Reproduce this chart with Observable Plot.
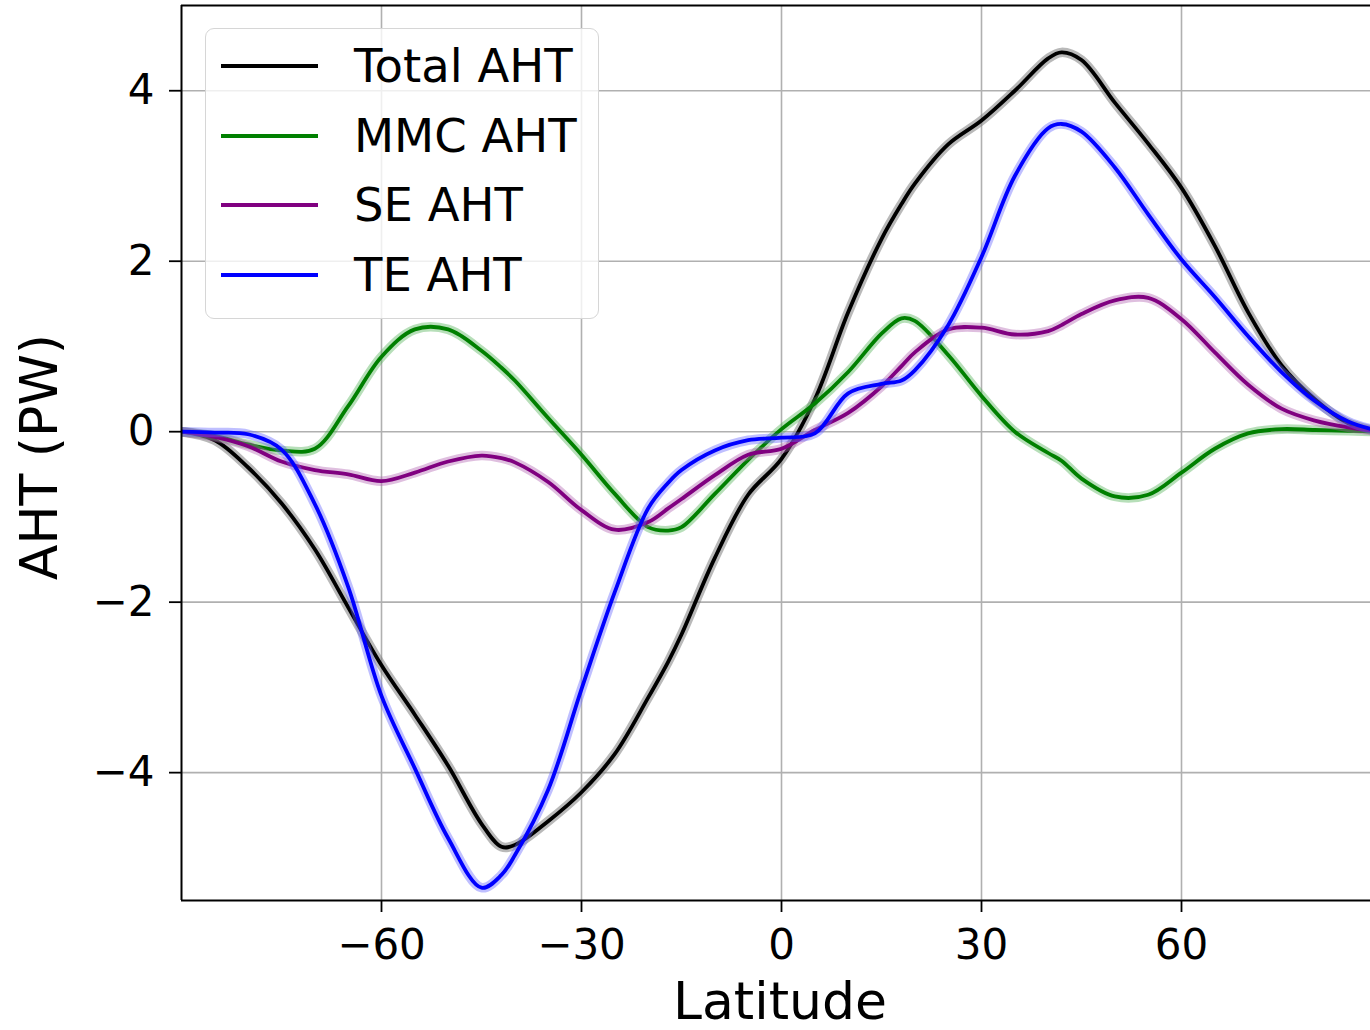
<!DOCTYPE html>
<html>
<head>
<meta charset="utf-8">
<script src="https://cdn.jsdelivr.net/npm/d3@7"></script>
<script src="https://cdn.jsdelivr.net/npm/@observablehq/plot@0.6"></script>
<style>
  html, body { margin: 0; padding: 0; background: #fff; overflow: hidden; }
  #wrap { position: relative; width: 1370px; height: 1030px; font-family: "DejaVu Sans", sans-serif; }
  #legend { position: absolute; left: 205px; top: 28px; width: 394px; height: 291px; box-sizing: border-box;
            border: 1.5px solid #d6d6d6; border-radius: 9px; background: rgba(255,255,255,0.8); }
  .row { position: absolute; left: 0; height: 70px; }
  .swatch { position: absolute; left: 15px; width: 97px; height: 4px; }
  .lab { position: absolute; left: 148px; font-size: 46.5px; color: #000; white-space: nowrap; line-height: 70px; }
</style>
</head>
<body>
<div id="wrap"></div>
<script>
// Latitude samples (degrees)
const lat = [-90,-85,-80,-75,-70,-65,-60,-55,-50,-45,-42,-40,-35,-30,-25,-20,-17,-15,-10,-5,0,5,10,15,18,20,25,30,35,40,42,45,50,55,60,65,70,75,80,85,90];
// Series values (PW)
const totalAHT = [0,-0.10,-0.42,-0.84,-1.38,-2.06,-2.74,-3.32,-3.92,-4.60,-4.87,-4.85,-4.57,-4.23,-3.78,-3.12,-2.70,-2.38,-1.48,-0.74,-0.32,0.38,1.40,2.26,2.67,2.91,3.37,3.65,4.00,4.38,4.45,4.36,3.86,3.38,2.86,2.18,1.40,0.78,0.38,0.10,0];
const mmcAHT   = [0,-0.05,-0.15,-0.22,-0.20,0.30,0.88,1.20,1.20,0.95,0.75,0.60,0.16,-0.27,-0.73,-1.12,-1.16,-1.12,-0.73,-0.33,0.03,0.33,0.70,1.15,1.33,1.30,0.90,0.42,0.00,-0.25,-0.34,-0.55,-0.76,-0.74,-0.48,-0.20,-0.02,0.03,0.02,0.01,0];
const seAHT    = [0,-0.06,-0.17,-0.35,-0.45,-0.50,-0.58,-0.48,-0.35,-0.28,-0.31,-0.36,-0.59,-0.92,-1.15,-1.06,-0.90,-0.79,-0.51,-0.27,-0.20,0.02,0.22,0.53,0.77,0.93,1.20,1.22,1.14,1.18,1.25,1.38,1.54,1.57,1.32,0.93,0.55,0.27,0.13,0.05,0];
const teAHT    = [0,-0.01,-0.03,-0.21,-0.85,-1.82,-3.10,-3.95,-4.77,-5.35,-5.20,-4.97,-4.20,-3.02,-1.88,-0.90,-0.60,-0.45,-0.22,-0.10,-0.07,-0.02,0.45,0.56,0.60,0.72,1.25,2.05,3.00,3.56,3.61,3.52,3.10,2.55,2.02,1.58,1.12,0.70,0.36,0.12,0];

const names  = ["Total AHT", "MMC AHT", "SE AHT", "TE AHT"];
const colors = ["#000000", "#008000", "#800080", "#0000ff"];
const bandColors = ["#808080", "#4caf50", "#b060b0", "#6060ff"];
const valuesList = [totalAHT, mmcAHT, seAHT, teAHT];

const xTicks = [-60, -30, 0, 30, 60];
const yTicks = [-4, -2, 0, 2, 4];
const xDomain = [-90, 88.35];
const yDomain = [-5.5, 5.0];

const fmt = d => d < 0 ? "\u2212" + Math.abs(d) : String(d);

const rows = names.map((n, k) => valuesList[k].map((v, i) => ({lat: lat[i], aht: v, name: n})));

const marks = [
  Plot.gridX(xTicks, {stroke: "#b0b0b0", strokeOpacity: 1, strokeWidth: 1.6}),
  Plot.gridY(yTicks, {stroke: "#b0b0b0", strokeOpacity: 1, strokeWidth: 1.6}),
];
rows.forEach((r, k) => {
  marks.push(Plot.line(r, {x: "lat", y: "aht", stroke: bandColors[k], strokeOpacity: k === 0 ? 0.55 : 0.4, strokeWidth: 9.5, curve: "catmull-rom", clip: true}));
  marks.push(Plot.line(r, {x: "lat", y: "aht", stroke: colors[k], strokeWidth: 3.8, curve: "catmull-rom", clip: true}));
});
marks.push(
  Plot.ruleX([xDomain[0]], {stroke: "#000", strokeWidth: 2}),
  Plot.ruleY([yDomain[0]], {stroke: "#000", strokeWidth: 2}),
  Plot.ruleY([yDomain[1]], {stroke: "#000", strokeWidth: 2}),
  Plot.axisX({ticks: xTicks, tickSize: 12, tickPadding: 17, tickFormat: fmt, fontSize: 42, label: null, strokeWidth: 1.8}),
  Plot.axisY({ticks: yTicks, tickSize: 12, tickPadding: 15, tickFormat: fmt, fontSize: 42, label: null, strokeWidth: 1.8}),
  Plot.text(["Latitude"], {frameAnchor: "bottom", dx: 4, dy: 102, fontSize: 52, lineAnchor: "middle", textAnchor: "middle"}),
  Plot.text(["AHT (PW)"], {frameAnchor: "left", dx: -141, dy: 4, fontSize: 52, rotate: -90, lineAnchor: "middle", textAnchor: "middle"})
);

const chart = Plot.plot({
  width: 1370,
  height: 1030,
  marginLeft: 181,
  marginRight: 0,
  marginTop: 5,
  marginBottom: 130,
  style: {fontFamily: "DejaVu Sans, sans-serif", background: "#fff", overflow: "hidden"},
  x: {domain: xDomain},
  y: {domain: yDomain},
  marks
});

const wrap = document.getElementById("wrap");
wrap.appendChild(chart);

const legend = document.createElement("div");
legend.id = "legend";
names.forEach((n, k) => {
  const row = document.createElement("div");
  row.className = "row";
  row.style.top = (2 + k * 69.5) + "px";
  const sw = document.createElement("div");
  sw.className = "swatch";
  sw.style.background = colors[k];
  sw.style.top = "33px";
  const lb = document.createElement("div");
  lb.className = "lab";
  lb.style.top = "0px";
  lb.textContent = n;
  row.appendChild(sw);
  row.appendChild(lb);
  legend.appendChild(row);
});
wrap.appendChild(legend);
</script>
</body>
</html>
